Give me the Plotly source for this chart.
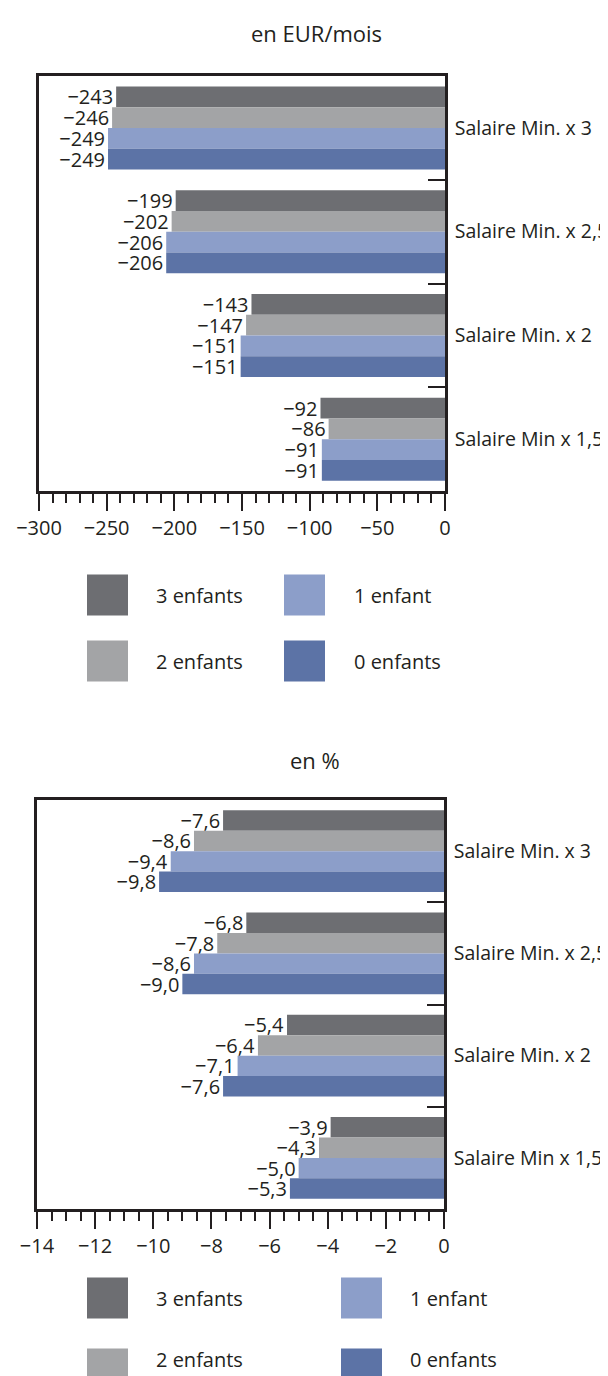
import plotly.graph_objects as go

# ---------------- data ----------------
categories = ["Salaire Min. x 3", "Salaire Min. x 2,5", "Salaire Min. x 2", "Salaire Min x 1,5"]
series_names = ["3 enfants", "2 enfants", "1 enfant", "0 enfants"]
series_colors = ["#6d6e72", "#a3a4a6", "#8c9ec9", "#5c73a6"]

eur_3_enfants = [-243, -199, -143, -92]
eur_2_enfants = [-246, -202, -147, -86]
eur_1_enfant = [-249, -206, -151, -91]
eur_0_enfants = [-249, -206, -151, -91]

pct_3_enfants = [-7.6, -6.8, -5.4, -3.9]
pct_2_enfants = [-8.6, -7.8, -6.4, -4.3]
pct_1_enfant = [-9.4, -8.6, -7.1, -5.0]
pct_0_enfants = [-9.8, -9.0, -7.6, -5.3]

title_top = "en EUR/mois"
title_bottom = "en %"

eur_series = [eur_3_enfants, eur_2_enfants, eur_1_enfant, eur_0_enfants]
pct_series = [pct_3_enfants, pct_2_enfants, pct_1_enfant, pct_0_enfants]

# ---------------- styling ----------------
W, H = 608, 1376
FONT = "Open Sans"
TXT = "#231f20"
LINE = "#231f20"
FS = 20


def fmt_int(v):
    return f"{v:.0f}".replace("-", "\u2212")


def fmt_dec(v):
    return f"{v:.1f}".replace(".", ",").replace("-", "\u2212")


def px_x(x):
    return x / W


def px_y(y):
    return 1 - y / H


fig = go.Figure()

for vals, name, col in zip(eur_series, series_names, series_colors):
    fig.add_trace(go.Bar(
        x=vals, y=categories, orientation="h", name=name,
        marker=dict(color=col, line=dict(width=0)),
        text=[fmt_int(v) for v in vals], textposition="outside",
        textfont=dict(family=FONT, size=FS, color=TXT),
        constraintext="none", cliponaxis=False,
        xaxis="x", yaxis="y", showlegend=False,
    ))

for vals, name, col in zip(pct_series, series_names, series_colors):
    fig.add_trace(go.Bar(
        x=vals, y=categories, orientation="h", name=name,
        marker=dict(color=col, line=dict(width=0)),
        text=[fmt_dec(v) for v in vals], textposition="outside",
        textfont=dict(family=FONT, size=FS, color=TXT),
        constraintext="none", cliponaxis=False,
        xaxis="x2", yaxis="y2", showlegend=False,
    ))


def xaxis_style(domain, rng, dtick, minor_dtick, anchor):
    return dict(
        domain=domain, range=rng, anchor=anchor, automargin=False,
        tick0=0, dtick=dtick, ticks="outside", ticklen=17, tickwidth=2,
        tickcolor=LINE, minor=dict(dtick=minor_dtick, tick0=0, ticks="outside",
                                   ticklen=9, tickwidth=1.5, tickcolor=LINE),
        showline=True, linewidth=2.8, linecolor=LINE, mirror=True,
        showgrid=False, zeroline=False,
        tickfont=dict(family=FONT, size=FS, color=TXT),
        fixedrange=True,
    )


def yaxis_style(domain, anchor):
    return dict(
        domain=domain, anchor=anchor, side="right", type="category",
        categoryorder="array", categoryarray=categories, automargin=False,
        autorange="reversed", tickson="boundaries",
        ticks="inside", ticklen=17, tickwidth=2, tickcolor=LINE,
        showline=True, linewidth=2.8, linecolor=LINE, mirror=True,
        showgrid=False, zeroline=False, ticklabelstandoff=3,
        tickfont=dict(family=FONT, size=19.5, color=TXT),
        fixedrange=True,
    )


fig.update_layout(
    template="none",
    width=W, height=H, margin=dict(l=0, r=0, t=0, b=0, pad=0),
    paper_bgcolor="white", plot_bgcolor="white",
    barmode="group", bargap=0.2, bargroupgap=0,
    separators=", ",
    font=dict(family=FONT, size=FS, color=TXT),
    xaxis=xaxis_style([px_x(31), px_x(437)], [-300, 0], 50, 10, "y"),
    yaxis=yaxis_style([px_y(483), px_y(68)], "x"),
    xaxis2=xaxis_style([px_x(29), px_x(436)], [-14, 0], 2, 0.5, "y2"),
    yaxis2=yaxis_style([px_y(1201), px_y(792)], "x2"),
    showlegend=False,
)

annotations = [
    dict(text=title_top, x=px_x(308), y=px_y(25), xref="paper", yref="paper",
         showarrow=False, xanchor="center", yanchor="middle",
         font=dict(family=FONT, size=22, color=TXT)),
    dict(text=title_bottom, x=px_x(307), y=px_y(752), xref="paper", yref="paper",
         showarrow=False, xanchor="center", yanchor="middle",
         font=dict(family=FONT, size=22, color=TXT)),
]
shapes = []


def add_legend(rows_y, text_y, col_swatch_x, col_text_x):
    # column 1: series 0,1 ; column 2: series 2,3
    order = [(0, 0, 0), (1, 0, 1), (2, 1, 0), (3, 1, 1)]
    for idx, col, row in order:
        sx = col_swatch_x[col]
        cy = rows_y[row]
        shapes.append(dict(type="rect", xref="paper", yref="paper",
                           x0=px_x(sx), x1=px_x(sx + 41),
                           y0=px_y(cy + 20.5), y1=px_y(cy - 20.5),
                           fillcolor=series_colors[idx], line=dict(width=0)))
        annotations.append(dict(text=series_names[idx], x=px_x(col_text_x[col]), y=px_y(text_y[row]),
                                xref="paper", yref="paper", showarrow=False,
                                xanchor="left", yanchor="middle",
                                font=dict(family=FONT, size=FS, color=TXT)))


add_legend([587, 653], [587, 653], [79, 276], [146, 344])
add_legend([1290, 1361], [1290, 1351], [79, 333], [146, 400])

fig.update_layout(annotations=annotations, shapes=shapes)

fig.write_html("out.html")
